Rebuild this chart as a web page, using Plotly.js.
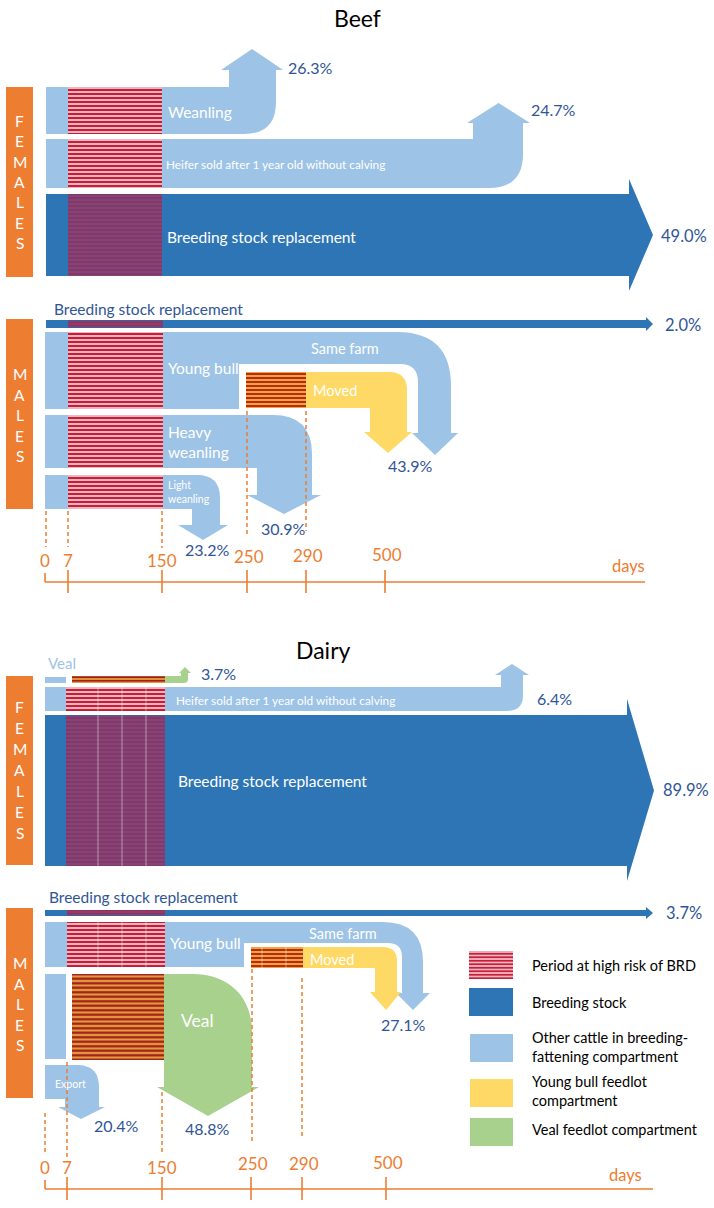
<!DOCTYPE html>
<html><head><meta charset="utf-8">
<script src="https://cdn.plot.ly/plotly-3.0.1.min.js"></script>
<style>html,body{margin:0;padding:0;background:#fff}#chart{width:714px;height:1208px}</style>
</head><body><div id="chart"></div>
<script>
// ---------------- data ----------------
const dayTicks = [0, 7, 150, 250, 290, 500];
const beefFemaleFlows = ['Weanling', 'Heifer sold after 1 year old without calving', 'Breeding stock replacement'];
const beefFemalePct = [26.3, 24.7, 49.0];
const beefMaleFlows = ['Breeding stock replacement', 'Young bull', 'Heavy<br>weanling', 'Light<br>weanling'];
const beefMalePct = [2.0, 43.9, 30.9, 23.2];
const dairyFemaleFlows = ['Veal', 'Heifer sold after 1 year old without calving', 'Breeding stock replacement'];
const dairyFemalePct = [3.7, 6.4, 89.9];
const dairyMaleFlows = ['Breeding stock replacement', 'Young bull', 'Veal', 'Export'];
const dairyMalePct = [3.7, 27.1, 48.8, 20.4];
const youngBullRoutes = ['Same farm', 'Moved'];
const legendLabels = ['Period at high risk of BRD', 'Breeding stock', 'Other cattle in breeding-<br>fattening compartment', 'Young bull feedlot<br>compartment', 'Veal feedlot compartment'];

// ---------------- style ----------------
const C = {dark:'#2e75b6', light:'#9dc3e6', yellow:'#ffd966', green:'#a9d18e', orange:'#ed7d31', label:'#2f5597'};
const F = 'Lato, "Open Sans", sans-serif';
const P = {
  light: {fg:'#c8162e', bg:'#eeb6c2'},
  dark:  {fg:'#c2203a', bg:'#4b5aa0'},
  moved: {fg:'#b3241c', bg:'#f2a533'},
  veal:  {fg:'#9e1a18', bg:'#e39a3e'}
};
const shapes = [], traces = [], ann = [];
const pct = v => v.toFixed(1) + '%';
function poly(d, color){ shapes.push({type:'path', path:d, fillcolor:color, line:{width:0}, layer:'below', xref:'x', yref:'y'}); }
function rect(x0,y0,x1,y1,color){ shapes.push({type:'rect', x0, y0, x1, y1, fillcolor:color, line:{width:0}, layer:'below', xref:'x', yref:'y'}); }
function hatch(x0,y0,x1,y1,p,sz){
  traces.push({type:'scatter', x:[x0,x1,x1,x0,x0], y:[y0,y0,y1,y1,y0], mode:'lines', line:{width:0},
    fill:'toself', fillcolor:p.bg, fillpattern:{shape:'-', fgcolor:p.fg, bgcolor:p.bg, size:sz||4, solidity:0.48},
    hoverinfo:'skip', showlegend:false});
}
function vfaint(x,y0,y1){ shapes.push({type:'line', x0:x, x1:x, y0, y1, line:{color:'rgba(255,255,255,0.45)', width:1}, xref:'x', yref:'y'}); }
function txt(x,y,t,size,color,anchor){ ann.push({x, y, text:t, showarrow:false, xanchor:anchor||'center', align:anchor||'center', yanchor:'middle', xref:'x', yref:'y', font:{family:F, size, color}}); }
function dash(x,y0,y1){ shapes.push({type:'line', x0:x, x1:x, y0, y1, xref:'x', yref:'y', line:{color:C.orange, width:1.5, dash:'4px,3px'}}); }
function ln(x0,y0,x1,y1){ shapes.push({type:'line', x0, y0, x1, y1, xref:'x', yref:'y', line:{color:C.orange, width:1.6}}); }
function rightArrow(x0,yt,yb,hx,wt,wb,tx,color){ poly(`M${x0},${yt} L${hx},${yt} L${hx},${wt} L${tx},${(yt+yb)/2} L${hx},${wb} L${hx},${yb} L${x0},${yb} Z`, color); }
function upArrow(x0,yt,yb,xl,xr,yh,wl,wr,ty,r,color){
  const tx=(wl+wr)/2;
  poly(`M${x0},${yt} L${xl},${yt} L${xl},${yh} L${wl},${yh} L${tx},${ty} L${wr},${yh} L${xr},${yh} L${xr},${yb-r} Q${xr},${yb} ${xr-r},${yb} L${x0},${yb} Z`, color);
}
function letters(word, x, yc, step){
  const n = word.length;
  for(let i=0;i<n;i++) txt(x, yc + (i-(n-1)/2)*step, word[i], 15.5, '#ffffff');
}
function axis(y, xEnd, tickPx, labY, daysPos){
  ln(45, y, xEnd, y);
  ln(45, y-9, 45, y);
  tickPx.slice(1).forEach(x => ln(x, y-12, x, y+11));
  dayTicks.forEach((d,i) => txt(tickPx[i] + (i>=3?2:0), labY[i], String(d), 17, C.orange));
  txt(daysPos[0], daysPos[1], 'days', 16.5, C.orange);
}

// ================= BEEF =================
txt(357, 18, 'Beef', 23, '#000000');
// females
rect(6, 87, 33, 277, C.orange); letters('FEMALES', 19.5, 182, 20.4);
upArrow(46, 87, 134, 229, 276, 70, 221, 283, 49, 32, C.light);
upArrow(46, 139, 188, 473, 523, 123, 467, 530, 103, 34, C.light);
rightArrow(46, 194, 276, 629, 179, 291, 653, C.dark);
hatch(68, 87, 162, 134, P.light); hatch(68, 139, 162, 188, P.light); hatch(68, 194, 162, 276, P.dark);
txt(166, 112, beefFemaleFlows[0], 15.5, '#ffffff', 'left');
txt(164, 164, beefFemaleFlows[1], 11.8, '#ffffff', 'left');
txt(165, 237, beefFemaleFlows[2], 15.5, '#ffffff', 'left');
txt(310, 67, pct(beefFemalePct[0]), 16, C.label);
txt(553, 109, pct(beefFemalePct[1]), 16, C.label);
txt(684, 236, pct(beefFemalePct[2]), 16.5, C.label);
// males
txt(52, 309, beefMaleFlows[0], 15.5, C.label, 'left');
rightArrow(46, 320, 328, 646, 317, 331, 653, C.dark);
hatch(68, 320, 163, 328, P.dark, 3);
txt(683, 325, pct(beefMalePct[0]), 16.5, C.label);
rect(6, 319, 33, 509, C.orange); letters('MALES', 19.5, 415, 20.5);
// young bull (same farm)
poly('M45,332 L397,332 Q451,332 451,386 L451,433 L458,433 L435,455 L412,433 L418,433 L418,382 Q418,364 400,364 L239,364 L239,409 L45,409 Z', C.light);
// moved (yellow)
poly('M306,372 L389,372 Q407,372 407,390 L407,432 L412,432 L388,453 L364,432 L370,432 L370,408 L306,408 Z', C.yellow);
hatch(246, 372, 306, 408, P.moved);
// heavy weanling
poly('M45,415 L273,415 Q312,415 312,454 L312,495 L321,495 L284,514 L247,495 L257,495 L257,468 L45,468 Z', C.light);
// light weanling
poly('M45,475 L197,475 Q220,475 220,498 L220,525 L228,525 L203,540 L178,525 L192,525 L192,509 L45,509 Z', C.light);
hatch(68, 332, 163, 409, P.light); hatch(68, 415, 163, 468, P.light); hatch(68, 475, 163, 509, P.light);
txt(166, 368, beefMaleFlows[1], 15.5, '#ffffff', 'left');
txt(309, 348, youngBullRoutes[0], 14.5, '#ffffff', 'left');
txt(311, 390, youngBullRoutes[1], 14.5, '#ffffff', 'left');
txt(166, 442, beefMaleFlows[2], 15.5, '#ffffff', 'left');
txt(166, 492, beefMaleFlows[3], 10.5, '#ffffff', 'left');
txt(410, 465, pct(beefMalePct[1]), 16, C.label);
txt(283, 528, pct(beefMalePct[2]), 16, C.label);
txt(207, 549, pct(beefMalePct[3]), 16, C.label);
// dashed day markers
dash(46, 511, 547); dash(68, 511, 547); dash(162, 511, 548); dash(247, 411, 536); dash(306, 411, 531);
axis(582, 645, [45, 68, 162, 247, 306, 385], [560, 560, 560, 556, 555, 554], [628, 566]);

// ================= DAIRY =================
txt(323, 650, 'Dairy', 23, '#000000');
// females
txt(46, 663, dairyFemaleFlows[0], 15, C.light, 'left');
rect(45, 677, 66, 683, C.light);
poly('M72,676 L181,676 L181,673 L179,673 L185,667 L191,673 L188,673 L188,679 Q188,683 184,683 L72,683 Z', C.green);
hatch(72, 676, 165, 683, P.veal, 3.5);
txt(218, 673, pct(dairyFemalePct[0]), 16, C.label);
rect(6, 676, 33, 865, C.orange); letters('FEMALES', 19.5, 770, 21);
upArrow(45, 687, 711, 501, 523, 675, 495, 529, 664, 16, C.light);
rightArrow(45, 715, 866, 627, 699, 881, 654, C.dark);
hatch(66, 687, 165, 711, P.light); hatch(66, 715, 165, 866, P.dark);
[98, 122, 146].forEach(x => { vfaint(x, 687, 711); vfaint(x, 715, 866); });
txt(174, 700, dairyFemaleFlows[1], 11.8, '#ffffff', 'left');
txt(176, 781, dairyFemaleFlows[2], 15.5, '#ffffff', 'left');
txt(554, 698, pct(dairyFemalePct[1]), 16, C.label);
txt(686, 790, pct(dairyFemalePct[2]), 16.5, C.label);
// males
txt(47, 897, dairyMaleFlows[0], 15.5, C.label, 'left');
rightArrow(45, 910, 916, 646, 907, 919, 653, C.dark);
hatch(67, 910, 165, 916, P.dark, 3);
txt(684, 913, pct(dairyMalePct[0]), 16.5, C.label);
rect(6, 908, 33, 1098, C.orange); letters('MALES', 19.5, 1004, 20.5);
// young bull
poly('M45,922 L383,922 Q423,922 423,962 L423,993 L430,993 L413,1010 L396,993 L402,993 L402,957 Q402,943 388,943 L244,943 L244,967 L45,967 Z', C.light);
poly('M303,947 L383,947 Q397,947 397,961 L397,992 L401,992 L386,1010 L370,992 L375,992 L375,968 L303,968 Z', C.yellow);
hatch(251, 947, 303, 968, P.moved);
[262, 286].forEach(x => vfaint(x, 947, 968));
hatch(67, 922, 165, 967, P.light);
[98, 122, 146].forEach(x => vfaint(x, 922, 967));
txt(168, 943, dairyMaleFlows[1], 15.5, '#ffffff', 'left');
txt(307, 933, youngBullRoutes[0], 14.5, '#ffffff', 'left');
txt(308, 959, youngBullRoutes[1], 14.5, '#ffffff', 'left');
txt(403, 1024, pct(dairyMalePct[1]), 16, C.label);
// veal
rect(45, 974, 66, 1059, C.light);
poly('M164,974 L193,974 C228,974 252,996 252,1032 L252,1087 L259,1087 L208,1116 L157,1087 L164,1087 Z', C.green);
hatch(72, 974, 164, 1060, P.veal, 4.5);
txt(197, 1020, dairyMaleFlows[2], 17.5, '#ffffff');
txt(207, 1128, pct(dairyMalePct[2]), 16, C.label);
// export
poly('M45,1065 L77,1065 Q99,1065 99,1087 L99,1107 L105,1107 L81,1119 L58,1107 L65,1107 L65,1099 L45,1099 Z', C.light);
txt(53, 1084, dairyMaleFlows[3], 10.5, '#ffffff', 'left');
txt(116, 1125, pct(dairyMalePct[3]), 16, C.label);
dash(45, 1113, 1155); dash(67, 1062, 1157); dash(162, 1092, 1153); dash(252, 969, 1142); dash(302, 978, 1138);
axis(1189, 653, [45, 67, 162, 251, 302, 386], [1167, 1167, 1167, 1163, 1163, 1162], [625, 1175]);

// ================= LEGEND =================
hatch(469, 951, 513, 979, P.light, 3.5);
rect(469, 988, 513, 1016, C.dark);
rect(470, 1034, 513, 1062, C.light);
rect(470, 1079, 513, 1107, C.yellow);
rect(470, 1118, 513, 1146, C.green);
const legY = [965, 1002, 1047, 1091, 1129];
legendLabels.forEach((t,i) => txt(530, legY[i], t, 14.5, '#000000', 'left'));

Plotly.newPlot('chart', traces, {
  width:714, height:1208, margin:{l:0, r:0, t:0, b:0},
  paper_bgcolor:'#ffffff', plot_bgcolor:'#ffffff', showlegend:false,
  xaxis:{range:[0,714], visible:false, fixedrange:true},
  yaxis:{range:[1208,0], visible:false, fixedrange:true},
  shapes, annotations:ann
}, {displayModeBar:false, staticPlot:true});
</script></body></html>
